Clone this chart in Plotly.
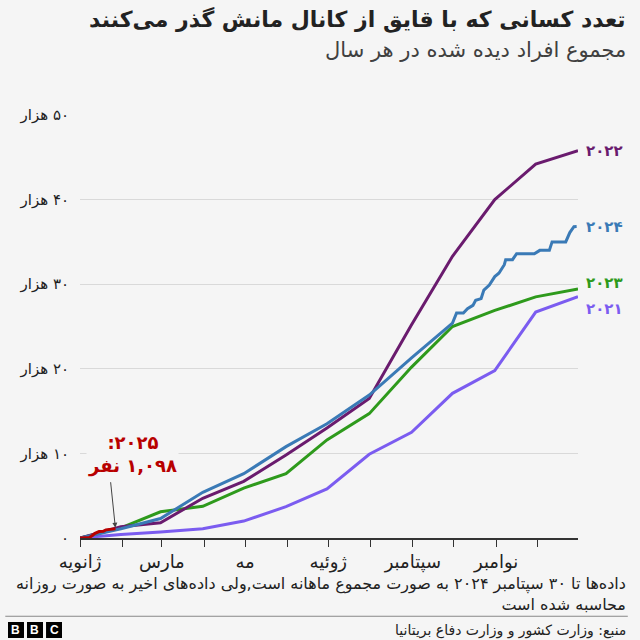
import plotly.graph_objects as go

# cumulative small-boat arrivals, all years mapped onto one calendar
month_ends = [
    "2024-01-01", "2024-01-31", "2024-02-29", "2024-03-31", "2024-04-30",
    "2024-05-31", "2024-06-30", "2024-07-31", "2024-08-31", "2024-09-30",
    "2024-10-31", "2024-11-30", "2024-12-31",
]
y2021 = [0, 416, 700, 1100, 2000, 3700, 5800, 9900, 12500, 17100, 19800, 26700, 28526]
y2022 = [0, 1341, 1800, 4700, 6700, 9800, 13000, 16500, 25200, 33300, 40000, 44200, 45774]
y2023 = [0, 1200, 3100, 3750, 5900, 7600, 11600, 14700, 20200, 25000, 26900, 28500, 29437]

# 2024: monthly until 30 Sep, daily afterwards
dates2024 = month_ends[:10] + [
    "2024-10-03", "2024-10-08", "2024-10-11", "2024-10-15", "2024-10-17",
    "2024-10-21", "2024-10-23", "2024-10-27", "2024-10-31", "2024-11-03",
    "2024-11-07", "2024-11-08", "2024-11-13", "2024-11-16", "2024-11-29",
    "2024-12-03", "2024-12-10", "2024-12-12", "2024-12-22", "2024-12-25",
    "2024-12-28", "2024-12-30",
]
y2024 = [0, 1100, 2300, 5400, 7600, 10800, 13500, 16900, 21300, 25400,
         26600, 26600, 27100, 27500, 28100, 28300, 29300, 29900, 30900, 31300,
         32300, 32900, 32900, 33600, 33600, 34000, 34000, 35000, 35000, 36100,
         36800, 36816]

dates2025 = ["2024-01-01", "2024-01-08", "2024-01-10", "2024-01-12", "2024-01-15",
             "2024-01-18", "2024-01-20", "2024-01-24", "2024-01-27"]
y2025 = [0, 60, 300, 560, 760, 800, 960, 1050, 1098]

# name, x, y, colour, label nudge (px) so the end labels don't collide
series = [
    ("۲۰۲۱", month_ends, y2021, "#7b5cf0", -12),
    ("۲۰۲۳", month_ends, y2023, "#2e9a1c", 6),
    ("۲۰۲۲", month_ends, y2022, "#6a1b6e", 0),
    ("۲۰۲۴", dates2024, y2024, "#3a7ab6", 0),
]

tick_months = [f"2024-{m:02d}-01" for m in range(1, 13)]
tick_names = ["ژانویه", "", "مارس", "", "مه", "", "ژوئیه", "", "سپتامبر", "", "نوامبر", ""]
y_ticks = [0, 10000, 20000, 30000, 40000, 50000]
y_names = ["۰", "\u200f۱۰ هزار", "\u200f۲۰ هزار", "\u200f۳۰ هزار", "\u200f۴۰ هزار", "\u200f۵۰ هزار"]

FONT = "DejaVu Sans"
fig = go.Figure()

for name, xs, ys, color, nudge in series:
    fig.add_trace(go.Scatter(x=xs, y=ys, mode="lines", name=name,
                             line=dict(color=color, width=3)))
    fig.add_annotation(x=1.012, xref="paper", y=ys[-1], yref="y", text=f"<b>{name}</b>",
                       showarrow=False, xanchor="left", yshift=nudge,
                       font=dict(size=15, color=color))

fig.add_trace(go.Scatter(x=dates2025, y=y2025, mode="lines", name="۲۰۲۵",
                         line=dict(color="#b80000", width=3)))

# 2025 callout
fig.add_annotation(x=0.105, xref="paper", y=9900, yref="y", xanchor="center",
                   text="<b>\u200f۲۰۲۵:\u200f<br>\u200f۱,۰۹۸ نفر</b>", showarrow=False,
                   font=dict(size=18, color="#b80000"), bgcolor="#f5f5f5", align="center")
fig.add_annotation(x="2024-01-27", y=1098, text="", showarrow=True, ax=-5, ay=-48,
                   arrowhead=2, arrowsize=1, arrowwidth=1, arrowcolor="#444", standoff=1)

# titles
fig.add_annotation(x=1.1, xref="paper", y=1.225, yref="paper", xanchor="right", yanchor="middle",
                   text="<b>تعدد کسانی که با قایق از کانال مانش گذر می‌کنند</b>",
                   showarrow=False, font=dict(size=22, color="#222"))
fig.add_annotation(x=1.1, xref="paper", y=1.153, yref="paper", xanchor="right", yanchor="middle",
                   text="مجموع افراد دیده شده در هر سال", showarrow=False,
                   font=dict(size=21, color="#404040"))

# footnote and source
fig.add_annotation(x=1.1, xref="paper", y=-0.133, yref="paper", xanchor="right", yanchor="middle",
                   text="\u200fداده‌ها تا ۳۰ سپتامبر ۲۰۲۴ به صورت مجموع ماهانه است,ولی داده‌های اخیر به صورت روزانه"
                        "<br>\u200fمحاسبه شده است",
                   showarrow=False, align="right", font=dict(size=16, color="#222"))
fig.add_shape(type="line", xref="paper", yref="paper", x0=-0.15, x1=1.1, y0=-0.185, y1=-0.185,
              line=dict(color="#888", width=1))
fig.add_annotation(x=1.1, xref="paper", y=-0.218, yref="paper", xanchor="right", yanchor="middle",
                   text="\u200fمنبع: وزارت کشور و وزارت دفاع بریتانیا", showarrow=False,
                   font=dict(size=14, color="#222"))

# BBC blocks
for i, letter in enumerate("BBC"):
    x0 = -0.1446 + i * 0.0382
    fig.add_shape(type="rect", xref="paper", yref="paper", x0=x0, x1=x0 + 0.0321,
                  y0=-0.2364, y1=-0.1986, fillcolor="#000", line=dict(width=0), layer="below")
    fig.add_annotation(x=x0 + 0.016, xref="paper", y=-0.2175, yref="paper", text=f"<b>{letter}</b>",
                       xanchor="center", yanchor="middle", showarrow=False,
                       font=dict(size=12, color="#fff", family="Liberation Sans"))

fig.update_xaxes(type="date", range=["2024-01-01", "2024-12-31"], tickvals=tick_months,
                 ticktext=tick_names, showgrid=False, showline=True, linecolor="#333", linewidth=1.5,
                 ticks="outside", ticklen=7, tickcolor="#333", tickfont=dict(size=18, color="#222"))
fig.update_yaxes(range=[0, 50000], tickvals=y_ticks, ticktext=y_names, showgrid=True,
                 gridcolor="#d9d9d9", gridwidth=1, zeroline=False, showline=False,
                 ticklabelstandoff=10, tickfont=dict(size=15, color="#222"))

fig.update_layout(
    width=640, height=640, showlegend=False,
    paper_bgcolor="#f5f5f5", plot_bgcolor="#f5f5f5",
    margin=dict(l=80, r=62, t=115, b=102),
    font=dict(family=FONT, color="#222"),
)
# drop the browser's default body margin so the 640x640 figure sits at the corner
fig.write_html("out.html", config={"displayModeBar": False},
               post_script="document.body.style.margin='0';")
